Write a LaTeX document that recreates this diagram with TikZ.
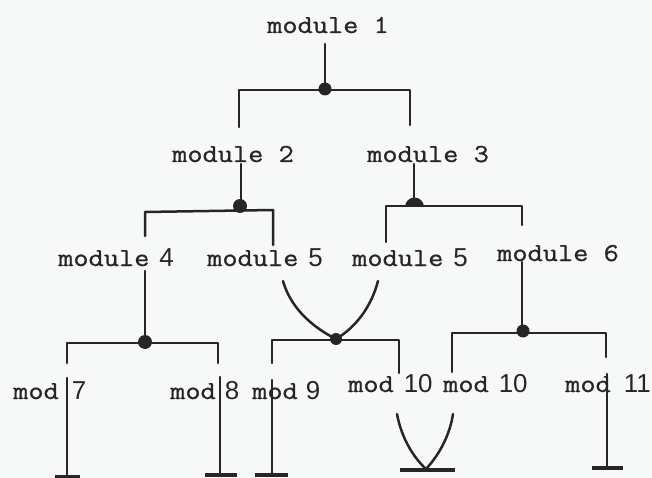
\documentclass[tikz,border=0pt]{standalone}
\usepackage{fontspec}
\setmonofont[FakeStretch=1.14, FakeBold=0.8]{Latin Modern Mono}
\newfontfamily\numfont{Liberation Sans}
\usetikzlibrary{calc}
\definecolor{ink}{HTML}{262626}
\definecolor{paper}{HTML}{F7F9F8}
\newcommand{\dg}[1]{{\numfont\fontsize{26}{26}\selectfont #1}}
\tikzset{
  lbl/.style={anchor=base west, inner sep=0pt, text=ink,
              font=\ttfamily\fontsize{26}{26}\selectfont},
  wire/.style={draw=ink, line width=2.5bp, line cap=round, line join=round},
  foot/.style={draw=ink, line width=3.5bp},
  joint/.style={circle, fill=ink, inner sep=0pt, minimum size=#1},
  joint/.default=12bp
}
\begin{document}
\begin{tikzpicture}[x=1bp, y=-1bp]
  \fill[paper] (0,0) rectangle (652,478);
  \useasboundingbox (0,0) rectangle (652,478);

  % module labels
  \node[lbl] (m1)  at (267,33)  {module 1};
  \node[lbl] (m2)  at (172,162) {module 2};
  \node[lbl] (m3)  at (367,162) {module 3};
  \node[lbl] (m4)  at (58,266)  {module\hspace{10bp}\dg{4}};
  \node[lbl] (m5a) at (207,266) {module\hspace{10bp}\dg{5}};
  \node[lbl] (m5b) at (352,266) {module\hspace{10bp}\dg{5}};
  \node[lbl] (m6)  at (497,261) {module 6};
  \node[lbl] (m7)  at (13,399)  {mod\hspace{13bp}\dg{7}};
  \node[lbl] (m8)  at (170,399) {mod\hspace{9bp}\dg{8}};
  \node[lbl] (m9)  at (252,399) {mod\hspace{8bp}\dg{9}};
  \node[lbl] (m10a) at (348,392) {mod\hspace{10bp}\dg{10}};
  \node[lbl] (m10b) at (443,392) {mod\hspace{10bp}\dg{10}};
  \node[lbl] (m11) at (565,392) {mod\hspace{13bp}\dg{11}};

  % junction points and connector ends
  \coordinate (s1) at (325,44);  \coordinate (j1) at (325,89);
  \coordinate (a1) at (239,90);  \coordinate (b1) at (410,90);
  \coordinate (a1e) at (239,127); \coordinate (b1e) at (410,125);

  \coordinate (s2) at (241,164); \coordinate (j2) at (241,208);
  \coordinate (a2) at (145,212); \coordinate (b2) at (273,210);
  \coordinate (a2e) at (145,236); \coordinate (b2e) at (273,245);

  \coordinate (s3) at (414,164); \coordinate (j3) at (414,206);
  \coordinate (a3) at (386,206); \coordinate (b3) at (522,206);
  \coordinate (a3e) at (386,242); \coordinate (b3e) at (522,225);

  \coordinate (s4) at (145,271); \coordinate (j4) at (145,342);
  \coordinate (a4) at (67,343);  \coordinate (b4) at (218,343);
  \coordinate (a4e) at (67,363); \coordinate (b4e) at (218,363);

  \coordinate (c5l) at (283,281); \coordinate (c5r) at (378,281);
  \coordinate (j5) at (336,339);
  \coordinate (a5) at (272,340); \coordinate (b5) at (399,340);
  \coordinate (a5e) at (272,363); \coordinate (b5e) at (399,373);

  \coordinate (s6) at (522,262); \coordinate (j6) at (522,332);
  \coordinate (a6) at (452,333); \coordinate (b6) at (606,333);
  \coordinate (a6e) at (452,372); \coordinate (b6e) at (606,357);

  % first level
  \draw[wire] (s1) -- (j1);
  \draw[wire] (a1e) -- (a1) -- (b1) -- (b1e);
  \node[joint=13bp] (k1) at (j1) {};

  % under module 2
  \draw[wire] (s2) -- (j2);
  \draw[wire] (a2e) -- (a2) -- (b2) -- (b2e);
  \node[joint=14bp] (k2) at (240,206) {};

  % under module 3
  \draw[wire] (s3) -- (j3);
  \draw[wire] (a3e) -- (a3) -- (b3) -- (b3e);
  \fill[ink] (405,207) arc[start angle=180, end angle=360, radius=9.5] -- cycle;

  % under module 4
  \draw[wire] (s4) -- (j4);
  \draw[wire] (a4e) -- (a4) -- (b4) -- (b4e);
  \node[joint=14bp] (k4) at (j4) {};

  % shared module 5
  \draw[wire] (c5l) .. controls (290,306) and (310,326) .. (j5);
  \draw[wire] (c5r) .. controls (372,304) and (358,326) .. (j5);
  \draw[wire] (a5e) -- (a5) -- (b5) -- (b5e);
  \node[joint=12bp] (k5) at (j5) {};

  % under module 6
  \draw[wire] (s6) -- (j6);
  \draw[wire] (a6e) -- (a6) -- (b6) -- (b6e);
  \node[joint=13bp] (k6) at (523,331) {};

  % terminal legs
  \coordinate (t7) at (67,378);  \coordinate (f7) at (67,477);
  \coordinate (t8) at (220,377); \coordinate (f8) at (220,475);
  \coordinate (t9) at (272,380); \coordinate (f9) at (272,475);
  \coordinate (t11) at (607,374); \coordinate (f11) at (607,468);
  \draw[wire] (t7) -- (f7);
  \draw[foot] (55,477) -- (80,477);
  \draw[wire] (t8) -- (f8);
  \draw[foot] (205,475) -- (237,475);
  \draw[wire] (t9) -- (f9);
  \draw[foot] (255,475) -- (288,475);
  \draw[wire] (t11) -- (f11);
  \draw[foot] (592,468) -- (623,468);

  % shared mod 10
  \coordinate (v10l) at (397,414); \coordinate (v10r) at (453,414);
  \coordinate (f10) at (426,469);
  \draw[wire] (v10l) .. controls (401,436) and (412,456) .. (f10);
  \draw[wire] (v10r) .. controls (450,434) and (440,454) .. (f10);
  \draw[foot] (400,470) -- (455,470);
\end{tikzpicture}
\end{document}
